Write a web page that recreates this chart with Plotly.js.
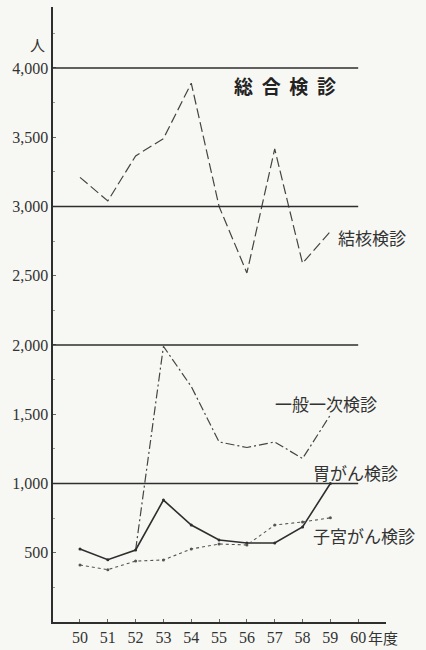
<!DOCTYPE html>
<html>
<head>
<meta charset="utf-8">
<script src="https://cdn.plot.ly/plotly-3.0.1.min.js"></script>
<style>
html,body{margin:0;padding:0;background:#f7f8f3;}
#chart{width:426px;height:650px;}
</style>
</head>
<body>
<div id="chart"></div>
<script>
// Fiscal years (昭和)
const years = [50, 51, 52, 53, 54, 55, 56, 57, 58, 59];
// 結核検診 (tuberculosis screening)
const tuberculosis = [3210, 3040, 3365, 3490, 3890, 3000, 2520, 3415, 2590, 2820];
// 一般一次検診 (general primary screening), starts FY52
const generalYears = [52, 53, 54, 55, 56, 57, 58, 59];
const generalPrimary = [520, 1990, 1700, 1300, 1260, 1300, 1180, 1495];
// 胃がん検診 (stomach cancer)
const stomach = [527, 450, 520, 880, 700, 592, 570, 570, 686, 1000];
// 子宮がん検診 (uterine cancer)
const uterine = [412, 378, 440, 448, 527, 563, 556, 700, 722, 752];
// axis ticks
const xTickVals = [50, 51, 52, 53, 54, 55, 56, 57, 58, 59, 60];
const xTickText = ['50', '51', '52', '53', '54', '55', '56', '57', '58', '59', '60'];
const yTickVals = [500, 1000, 1500, 2000, 2500, 3000, 3500, 4000];
const yTickText = ['500', '1,000', '1,500', '2,000', '2,500', '3,000', '3,500', '4,000'];
const refLines = [1000, 2000, 3000, 4000];

const ink = '#2e2e2e';
const numFont = {family: 'Liberation Serif, DejaVu Serif, serif', size: 16, color: '#333'};
const jpFont = {family: 'Noto Sans CJK JP, sans-serif', size: 17, color: '#333'};

const traces = [
  {x: years, y: tuberculosis, mode: 'lines', line: {color: '#444', width: 1.2, dash: '10px,4px'}, hoverinfo: 'skip'},
  {x: generalYears, y: generalPrimary, mode: 'lines', line: {color: '#444', width: 1.2, dash: '9px,3px,2px,3px'}, hoverinfo: 'skip'},
  {x: years, y: stomach, mode: 'lines+markers', line: {color: ink, width: 1.6}, marker: {size: 3, color: ink}, hoverinfo: 'skip'},
  {x: years, y: uterine, mode: 'lines+markers', line: {color: '#555', width: 1.1, dash: 'dot'}, marker: {size: 3, color: '#555'}, hoverinfo: 'skip'}
];

const shapes = refLines.map(v => ({
  type: 'line', xref: 'x', yref: 'y', x0: 49.03, x1: 60, y0: v, y1: v,
  line: {color: ink, width: 1.6}
}));

const sp = '\u00a0\u00a0';
const annotations = [
  {text: '人', x: 0, xref: 'paper', xanchor: 'right', xshift: -6, y: 4170, yref: 'y', showarrow: false, font: {family: 'Noto Sans CJK JP, sans-serif', size: 15, color: '#333'}},
  {text: '年度', x: 60, xref: 'x', xanchor: 'left', xshift: 8, y: 0, yref: 'y', yanchor: 'middle', yshift: -15, showarrow: false, font: {family: 'Noto Sans CJK JP, sans-serif', size: 15, color: '#333'}},
  {text: '総' + sp + '合' + sp + '検' + sp + '診', x: 57.37, y: 3870, showarrow: false, font: {family: 'Noto Sans CJK JP, sans-serif', size: 19, color: '#222', weight: 'bold'}},
  {text: '結核検診', x: 59.21, xanchor: 'left', y: 2775, showarrow: false, font: jpFont},
  {text: '一般一次検診', x: 56.94, xanchor: 'left', y: 1580, showarrow: false, font: jpFont},
  {text: '胃がん検診', x: 58.31, xanchor: 'left', y: 1076, showarrow: false, font: jpFont},
  {text: '子宮がん検診', x: 58.31, xanchor: 'left', y: 621, showarrow: false, font: jpFont}
];

const layout = {
  width: 426, height: 650,
  margin: {l: 53, r: 40, t: 7, b: 28},
  paper_bgcolor: '#f7f8f3', plot_bgcolor: '#f7f8f3',
  showlegend: false,
  xaxis: {
    range: [49.03, 61.0], showgrid: false, zeroline: false,
    showline: true, linecolor: ink, linewidth: 1.6,
    tickvals: xTickVals, ticktext: xTickText, ticks: 'inside', ticklen: 3, tickcolor: '#666',
    tickfont: numFont
  },
  yaxis: {
    range: [0, 4440], showgrid: false, zeroline: false,
    showline: true, linecolor: ink, linewidth: 1.6,
    tickvals: yTickVals, ticktext: yTickText, ticks: 'inside', ticklen: 3, tickcolor: '#666',
    minor: {dtick: 250, tick0: 0, ticks: 'inside', ticklen: 2, tickcolor: '#999'},
    tickfont: numFont
  },
  shapes: shapes,
  annotations: annotations
};

Plotly.newPlot('chart', traces, layout, {staticPlot: true, displayModeBar: false});
</script>
</body>
</html>
